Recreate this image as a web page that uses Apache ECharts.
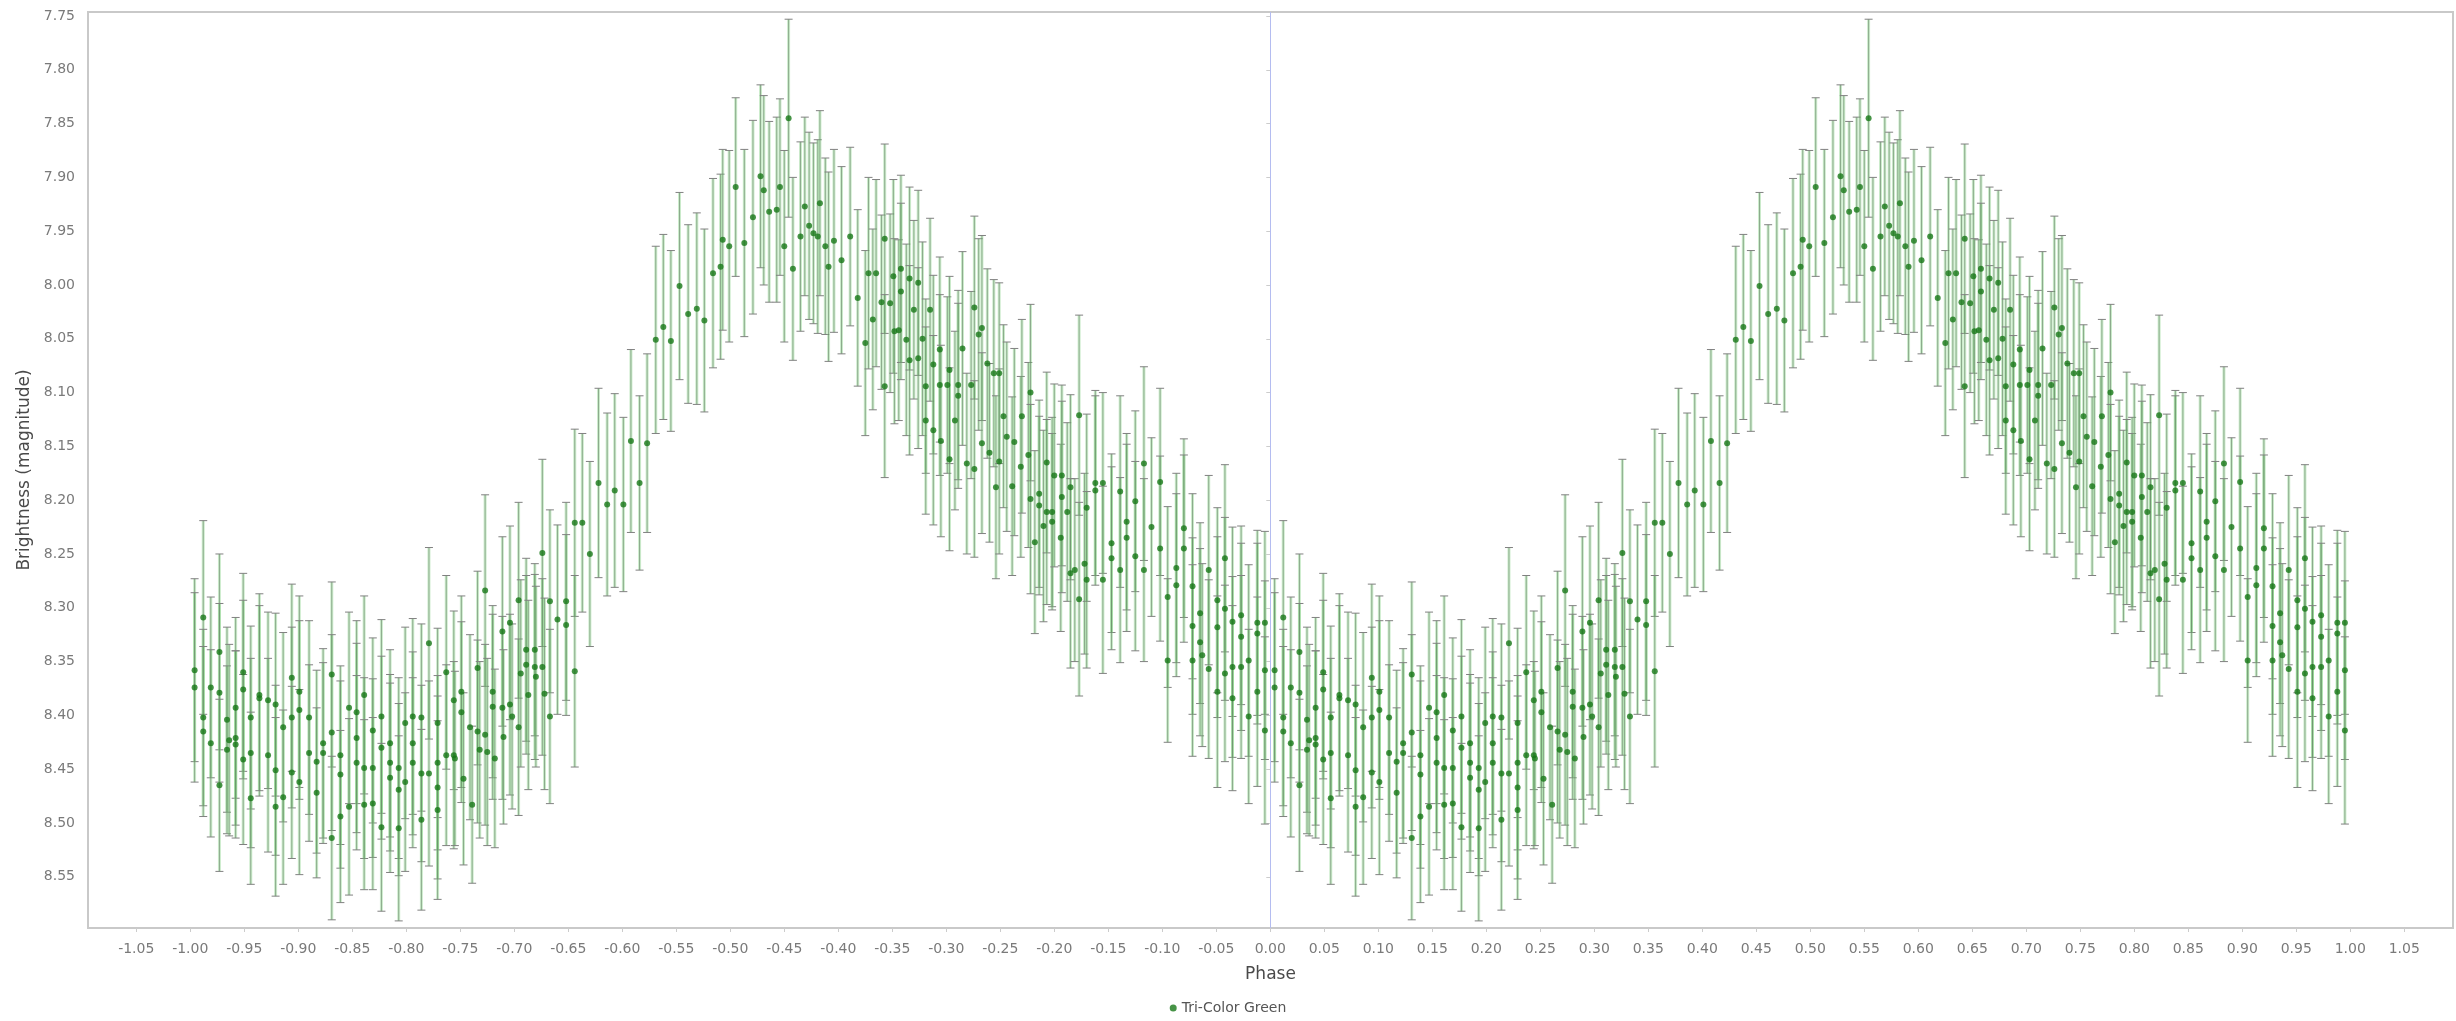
<!DOCTYPE html>
<html>
<head>
<meta charset="utf-8">
<script src="https://cdn.jsdelivr.net/npm/echarts@6/dist/echarts.min.js"></script>
<style>
  html, body { margin: 0; padding: 0; background: #ffffff; }
  #chart { width: 2456px; height: 1021px; }
</style>
</head>
<body>
<div id="chart"></div>
<script>
// ---- Data (phase 0..1; plotted again at phase-1 as in the original phase plot) ----
// Minimum branch (phase 0.00 - 0.24)
const phaseMin = [
  0.004,0.004,0.012,0.012,0.012,0.019,0.019,0.027,0.027,0.027,
  0.034,0.034,0.036,0.042,0.042,0.042,0.049,0.049,0.049,0.056,
  0.056,0.056,0.064,0.064,0.072,0.072,0.079,0.079,0.079,0.086,
  0.086,0.094,0.094,0.094,0.101,0.101,0.101,0.110,0.110,0.117,
  0.117,0.123,0.123,0.131,0.131,0.131,0.139,0.139,0.139,0.147,
  0.147,0.154,0.154,0.154,0.161,0.161,0.161,0.169,0.169,0.169,
  0.177,0.177,0.177,0.185,0.185,0.185,0.193,0.193,0.193,0.199,
  0.199,0.206,0.206,0.206,0.214,0.214,0.214,0.221,0.221,0.229,
  0.229,0.229,0.229,0.237,0.237
];
const magMin = [
  8.358,8.374,8.309,8.402,8.415,8.374,8.426,8.341,8.379,8.465,
  8.404,8.432,8.423,8.393,8.421,8.427,8.360,8.376,8.441,8.402,
  8.435,8.477,8.381,8.384,8.386,8.437,8.390,8.451,8.485,8.411,
  8.476,8.365,8.402,8.453,8.378,8.395,8.462,8.402,8.435,8.443,
  8.472,8.426,8.435,8.362,8.416,8.514,8.437,8.455,8.494,8.393,
  8.485,8.397,8.421,8.444,8.381,8.449,8.483,8.414,8.449,8.482,
  8.401,8.430,8.504,8.426,8.444,8.458,8.449,8.469,8.505,8.407,
  8.462,8.401,8.426,8.444,8.402,8.454,8.497,8.333,8.454,8.407,
  8.444,8.467,8.488,8.360,8.437
];
const errMin = [
  0.085,0.088,0.090,0.082,0.079,0.084,0.087,0.091,0.083,0.080,
  0.086,0.078,0.089,0.084,0.081,0.087,0.092,0.083,0.079,0.085,
  0.088,0.080,0.094,0.086,0.082,0.090,0.085,0.079,0.083,0.088,
  0.081,0.087,0.084,0.080,0.089,0.083,0.086,0.090,0.082,0.085,
  0.079,0.088,0.084,0.086,0.091,0.076,0.083,0.087,0.080,0.089,
  0.082,0.085,0.088,0.081,0.092,0.084,0.079,0.086,0.083,0.080,
  0.090,0.085,0.078,0.087,0.082,0.088,0.084,0.080,0.086,0.089,
  0.083,0.091,0.085,0.079,0.087,0.082,0.084,0.089,0.086,0.088,
  0.081,0.085,0.083,0.090,0.084
];
// Rising branch (phase 0.24 - 0.42)
const phaseRise = [
  0.244,0.244,0.245,0.251,0.251,0.253,0.259,0.261,0.266,0.266,
  0.268,0.273,0.273,0.275,0.280,0.280,0.282,0.289,0.289,0.290,
  0.296,0.296,0.298,0.304,0.304,0.306,0.311,0.311,0.313,0.319,
  0.319,0.320,0.326,0.326,0.328,0.333,0.333,0.340,0.348,0.348,
  0.356,0.356,0.363,0.370,0.378,0.386,0.393,0.401,0.408,0.416,
  0.423
];
const magRise = [
  8.386,8.437,8.440,8.378,8.397,8.459,8.411,8.483,8.356,8.415,
  8.432,8.284,8.418,8.434,8.378,8.392,8.440,8.322,8.393,8.420,
  8.314,8.390,8.401,8.293,8.411,8.361,8.339,8.353,8.381,8.339,
  8.355,8.364,8.249,8.355,8.380,8.294,8.401,8.311,8.294,8.316,
  8.221,8.359,8.221,8.250,8.184,8.204,8.191,8.204,8.145,8.184,
  8.147
];
const errRise = [
  0.083,0.087,0.081,0.089,0.084,0.080,0.086,0.073,0.090,0.085,
  0.082,0.089,0.084,0.087,0.080,0.086,0.083,0.088,0.085,0.081,
  0.090,0.084,0.086,0.091,0.082,0.087,0.085,0.083,0.088,0.080,
  0.086,0.084,0.087,0.082,0.089,0.085,0.081,0.088,0.092,0.084,
  0.087,0.089,0.083,0.086,0.088,0.085,0.090,0.081,0.085,0.081,
  0.083
];
// Maximum branch (phase 0.43 - 0.75)
const phaseMax = [
  0.431,0.438,0.445,0.453,0.461,0.469,0.476,0.484,0.491,0.493,
  0.499,0.505,0.513,0.521,0.528,0.531,0.536,0.543,0.546,0.550,
  0.554,0.558,0.565,0.569,0.573,0.577,0.581,0.583,0.588,0.591,
  0.596,0.603,0.611,0.618,0.625,0.628,0.632,0.635,0.640,0.643,
  0.643,0.648,0.651,0.652,0.656,0.658,0.658,0.663,0.666,0.666,
  0.670,0.674,0.674,0.678,0.681,0.681,0.685,0.688,0.688,0.694,
  0.694,0.695,0.701,0.703,0.703,0.708,0.711,0.711,0.715,0.719,
  0.723,0.726,0.726,0.730,0.733,0.733,0.738,0.740,0.744,0.746,
  0.749,0.749
];
const magMax = [
  8.051,8.039,8.052,8.001,8.027,8.022,8.033,7.989,7.983,7.958,
  7.964,7.909,7.961,7.937,7.899,7.912,7.932,7.930,7.909,7.964,
  7.845,7.985,7.955,7.927,7.945,7.952,7.955,7.924,7.964,7.983,
  7.959,7.977,7.955,8.012,8.054,7.989,8.032,7.989,8.016,7.957,
  8.094,8.017,7.992,8.043,8.042,7.985,8.006,8.051,7.994,8.070,
  8.023,7.998,8.068,8.050,8.094,8.126,8.023,8.074,8.135,8.060,
  8.093,8.145,8.093,8.079,8.162,8.126,8.093,8.103,8.059,8.166,
  8.093,8.021,8.171,8.046,8.040,8.147,8.073,8.156,8.082,8.188,
  8.164,8.082
];
const errMax = [
  0.087,0.086,0.084,0.087,0.083,0.089,0.085,0.088,0.086,0.084,
  0.089,0.083,0.087,0.090,0.085,0.088,0.084,0.086,0.082,0.089,
  0.092,0.085,0.088,0.083,0.087,0.084,0.090,0.086,0.082,0.088,
  0.085,0.087,0.083,0.082,0.086,0.089,0.084,0.087,0.081,0.088,
  0.085,0.083,0.090,0.086,0.084,0.087,0.082,0.089,0.085,0.088,
  0.083,0.086,0.084,0.090,0.081,0.087,0.085,0.083,0.088,0.086,
  0.084,0.089,0.082,0.087,0.085,0.083,0.088,0.086,0.090,0.084,
  0.087,0.085,0.082,0.089,0.086,0.084,0.088,0.083,0.087,0.085,
  0.086,0.084
];
// Declining branch (phase 0.75 - 1.00)
const phaseFall = [
  0.753,0.756,0.761,0.763,0.769,0.770,0.776,0.778,0.778,0.782,
  0.786,0.786,0.790,0.793,0.793,0.798,0.798,0.800,0.806,0.807,
  0.807,0.812,0.815,0.815,0.819,0.823,0.823,0.828,0.830,0.830,
  0.838,0.838,0.845,0.845,0.853,0.853,0.861,0.861,0.867,0.867,
  0.875,0.875,0.883,0.883,0.890,0.898,0.898,0.905,0.905,0.913,
  0.913,0.920,0.920,0.928,0.928,0.928,0.935,0.935,0.937,0.943,
  0.943,0.951,0.951,0.951,0.958,0.958,0.958,0.965,0.965,0.965,
  0.973,0.973,0.973,0.980,0.980,0.988,0.988,0.988,0.995,0.995,
  0.995
];
const magFall = [
  8.122,8.141,8.187,8.146,8.169,8.122,8.158,8.100,8.199,8.239,
  8.194,8.205,8.224,8.165,8.211,8.211,8.220,8.177,8.235,8.177,
  8.197,8.211,8.188,8.268,8.265,8.121,8.292,8.259,8.207,8.274,
  8.184,8.191,8.184,8.274,8.240,8.254,8.192,8.265,8.220,8.235,
  8.201,8.252,8.166,8.265,8.225,8.183,8.245,8.290,8.349,8.263,
  8.279,8.226,8.245,8.280,8.317,8.349,8.305,8.332,8.344,8.265,
  8.357,8.293,8.318,8.378,8.254,8.301,8.361,8.313,8.355,8.384,
  8.307,8.327,8.355,8.349,8.401,8.314,8.324,8.378,8.314,8.358,
  8.414
];
const errFall = [
  0.085,0.088,0.083,0.087,0.084,0.090,0.086,0.082,0.088,0.085,
  0.087,0.083,0.089,0.084,0.086,0.088,0.082,0.085,0.087,0.084,
  0.089,0.083,0.086,0.088,0.085,0.093,0.090,0.084,0.087,0.082,
  0.086,0.088,0.084,0.087,0.083,0.085,0.089,0.086,0.082,0.087,
  0.084,0.088,0.090,0.085,0.083,0.087,0.086,0.084,0.076,0.088,
  0.085,0.083,0.087,0.086,0.082,0.089,0.084,0.087,0.085,0.088,
  0.083,0.086,0.084,0.089,0.087,0.085,0.082,0.088,0.084,0.086,
  0.083,0.087,0.085,0.089,0.081,0.086,0.084,0.088,0.085,0.083,
  0.087
];

const xTickLabels = [-1.05,-1.00,-0.95,-0.90,-0.85,-0.80,-0.75,-0.70,-0.65,-0.60,-0.55,-0.50,-0.45,-0.40,-0.35,-0.30,-0.25,-0.20,-0.15,-0.10,-0.05,0.00,
  0.05,0.10,0.15,0.20,0.25,0.30,0.35,0.40,0.45,0.50,0.55,0.60,0.65,0.70,0.75,0.80,0.85,0.90,0.95,1.00,1.05];
const yTickLabels = [7.75,7.80,7.85,7.90,7.95,8.00,8.05,8.10,8.15,8.20,8.25,8.30,8.35,8.40,8.45,8.50,8.55];
const seriesName = 'Tri-Color Green';

// ---- Build observation table: each observation at phase p and p-1 ----
const phase = phaseMin.concat(phaseRise, phaseMax, phaseFall);
const magnitude = magMin.concat(magRise, magMax, magFall);
const magError = errMin.concat(errRise, errMax, errFall);
const obs = [];
phase.forEach((p, i) => { obs.push([+(p - 1).toFixed(4), magnitude[i], magError[i]]); });
phase.forEach((p, i) => { obs.push([p, magnitude[i], magError[i]]); });

const FONT = 'DejaVu Sans';
const chart = echarts.init(document.getElementById('chart'), null, { renderer: 'canvas' });

chart.setOption({
  backgroundColor: '#ffffff',
  animation: false,
  grid: {
    left: 88, right: 3, top: 12, bottom: 93,
    show: true, borderColor: '#c9c9c9', borderWidth: 2, backgroundColor: '#ffffff'
  },
  xAxis: {
    type: 'value',
    min: -1.0947, max: 1.0951,
    name: 'Phase',
    nameLocation: 'middle',
    nameGap: 38,
    nameTextStyle: { fontFamily: FONT, fontSize: 17, color: '#4a4a4a' },
    axisLine: { show: false },
    splitLine: { show: false },
    axisTick: { show: true, customValues: xTickLabels, length: 4, lineStyle: { color: '#cccccc' } },
    axisLabel: {
      customValues: xTickLabels,
      formatter: v => v.toFixed(2),
      fontFamily: FONT, fontSize: 14, color: '#7a7a7a', margin: 14
    }
  },
  yAxis: {
    type: 'value',
    inverse: true,
    min: 7.7463, max: 8.5976,
    name: 'Brightness (magnitude)',
    nameLocation: 'middle',
    nameRotate: 90,
    nameGap: 52,
    nameTextStyle: { fontFamily: FONT, fontSize: 17, color: '#4a4a4a' },
    axisLine: { show: false },
    splitLine: { show: false },
    axisTick: { show: true, customValues: yTickLabels, length: 4, lineStyle: { color: '#cccccc' } },
    axisLabel: {
      customValues: yTickLabels,
      formatter: v => v.toFixed(2),
      fontFamily: FONT, fontSize: 14, color: '#7a7a7a', margin: 13
    }
  },
  legend: {
    data: [seriesName],
    top: 996,
    left: 'center',
    icon: 'circle',
    itemWidth: 7, itemHeight: 7,
    textStyle: { fontFamily: FONT, fontSize: 14, color: '#555' }
  },
  series: [
    {
      type: 'custom',
      name: 'errorbars',
      data: obs,
      dimensions: ['phase', 'mag', 'err'],
      encode: { x: 0, y: 1 },
      clip: true,
      z: 2,
      renderItem: function (params, api) {
        const x = api.value(0), y = api.value(1), e = api.value(2);
        const a = api.coord([x, y - e]);
        const b = api.coord([x, y + e]);
        const cx = a[0];
        return {
          type: 'group',
          children: [
            { type: 'line', shape: { x1: cx, y1: a[1], x2: cx, y2: b[1] },
              style: { stroke: 'rgba(120,205,120,0.38)', lineWidth: 3 } },
            { type: 'line', shape: { x1: cx, y1: a[1], x2: cx, y2: b[1] },
              style: { stroke: 'rgba(105,135,105,0.65)', lineWidth: 1 } },
            { type: 'line', shape: { x1: cx - 4, y1: a[1], x2: cx + 4, y2: a[1] },
              style: { stroke: '#808080', lineWidth: 1 } },
            { type: 'line', shape: { x1: cx - 4, y1: b[1], x2: cx + 4, y2: b[1] },
              style: { stroke: '#808080', lineWidth: 1 } }
          ]
        };
      },
      markLine: {
        silent: true,
        symbol: 'none',
        label: { show: false },
        lineStyle: { color: '#b4bcf0', width: 1, type: 'solid' },
        data: [{ xAxis: 0 }]
      }
    },
    {
      type: 'scatter',
      name: seriesName,
      data: obs,
      encode: { x: 0, y: 1 },
      symbol: 'circle',
      symbolSize: 6,
      itemStyle: { color: '#187818' },
      z: 3
    }
  ]
});
</script>
</body>
</html>
